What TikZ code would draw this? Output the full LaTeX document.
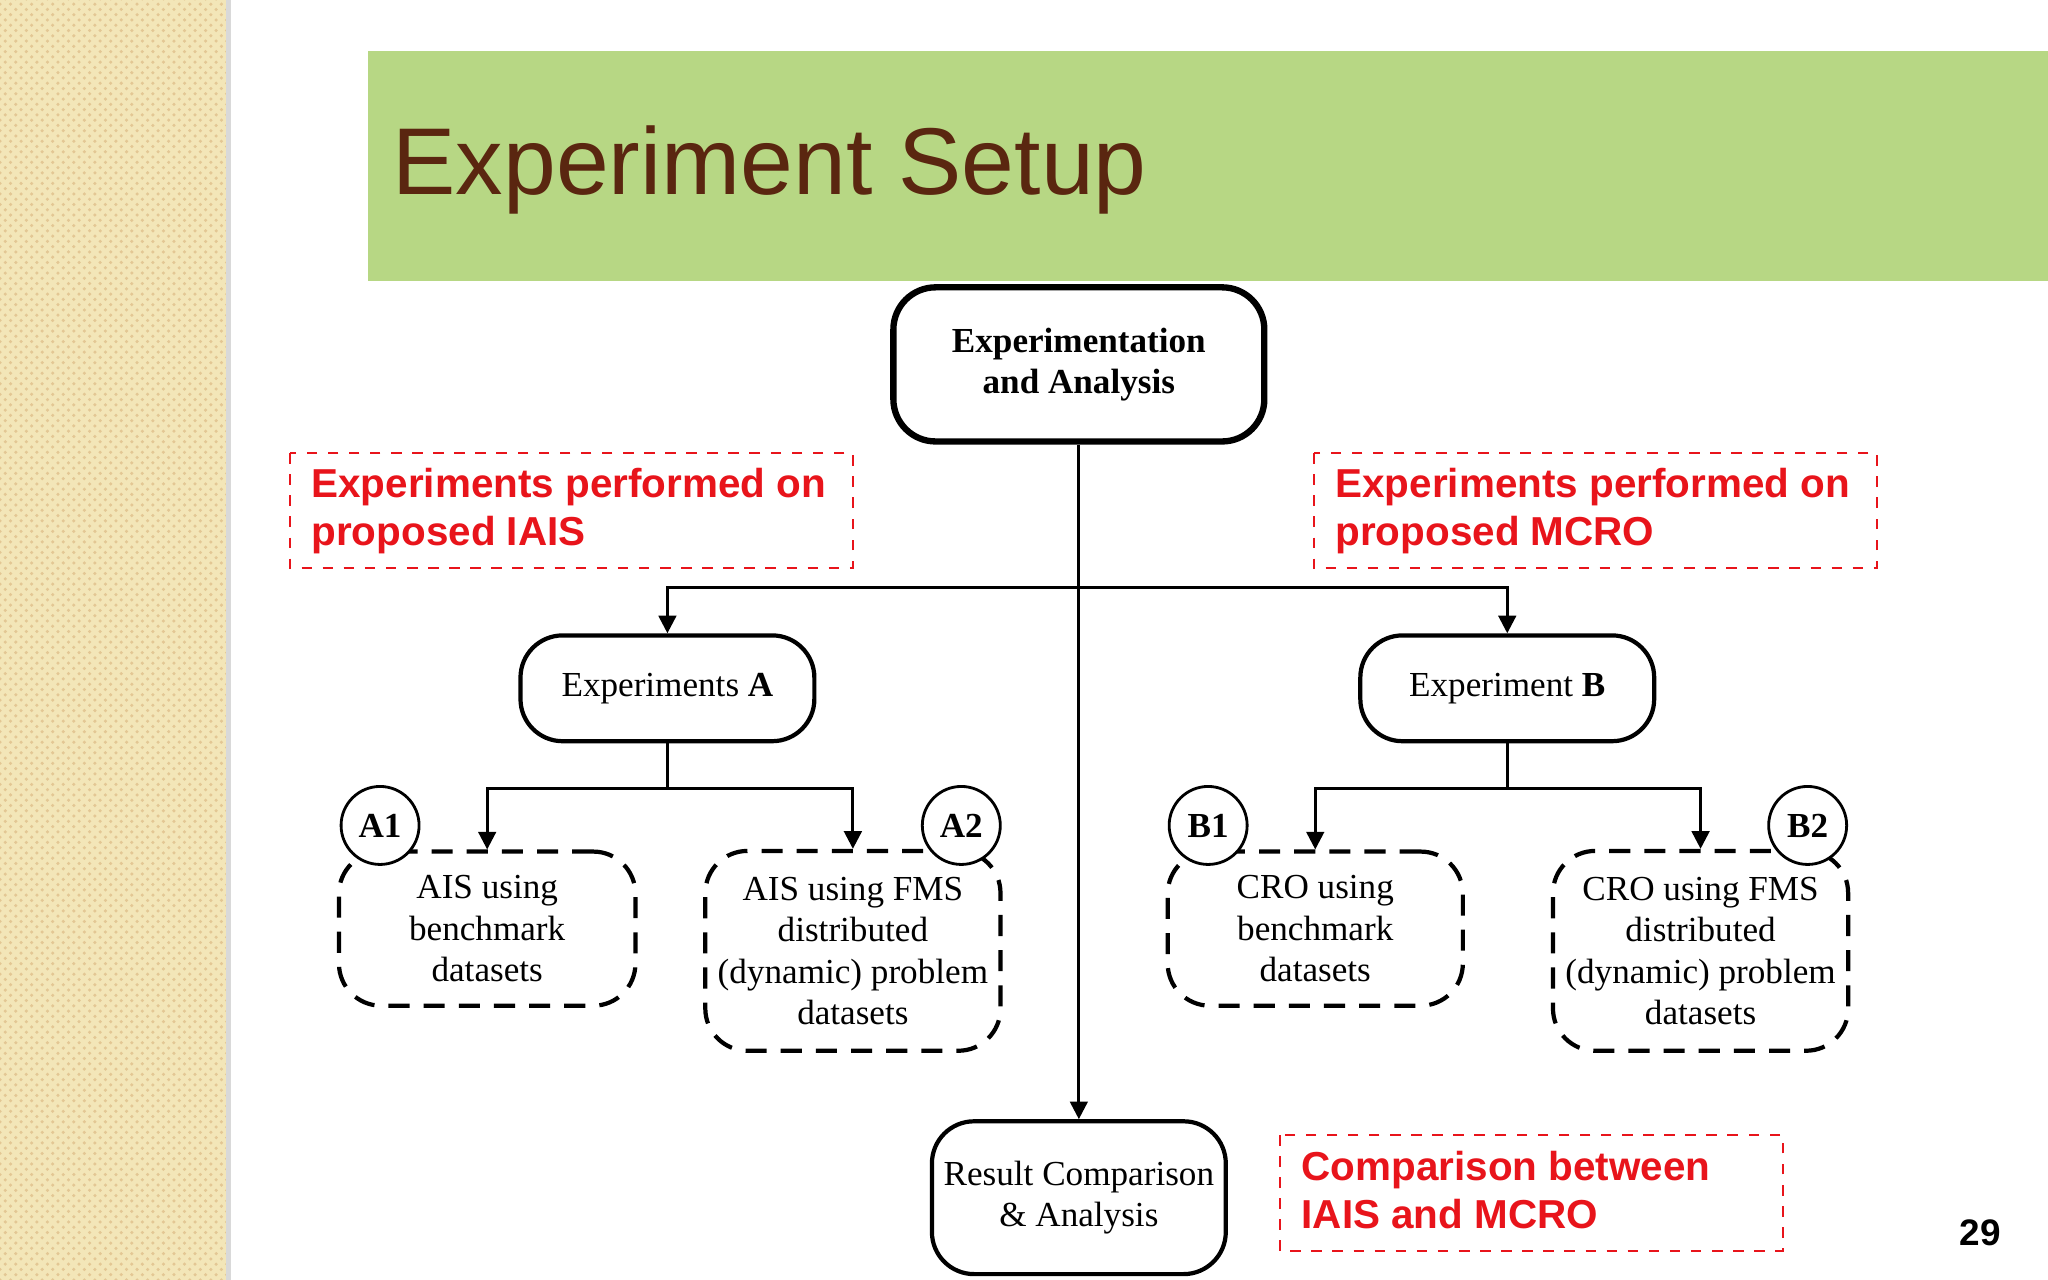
\documentclass[tikz,border=0pt]{standalone}
\usepackage{fontspec}
\setmainfont{Liberation Serif}
\newfontfamily\sansf{Liberation Sans}
\usetikzlibrary{arrows.meta,patterns}
\definecolor{beige}{HTML}{F3E6B8}
\definecolor{bandg}{HTML}{B7D784}
\definecolor{titleb}{HTML}{5A2610}
\definecolor{redt}{HTML}{E8141B}
\begin{document}
\begin{tikzpicture}[x=0.01306cm,y=-0.01306cm,
  solid box/.style={draw,line width=1.2pt,rounded corners=12pt,align=center,font=\fontsize{10}{11.8}\selectfont},
  dash box/.style={draw,line width=1.2pt,dash pattern=on 6pt off 4pt,rounded corners=12pt,align=center,font=\fontsize{10}{11.8}\selectfont},
  lab/.style={draw,circle,line width=0.8pt,minimum size=0.78cm,inner sep=0pt,font=\bfseries\fontsize{10}{12}\selectfont},
  redbox/.style={draw=redt,dashed,line width=0.6pt},
  redtext/.style={text=redt,font=\sansf\bfseries\fontsize{11.5}{13.7}\selectfont,align=left,anchor=north west,inner sep=0pt},
  arr/.style={-{Triangle[length=5pt,width=5pt]},line width=0.8pt},
  ln/.style={line width=0.8pt}]
\useasboundingbox (0,0) rectangle (1568,980);
\fill[white] (0,0) rectangle (1568,980);
\fill[beige] (0,0) rectangle (173,980);
\fill[pattern=crosshatch dots,pattern color=beige!70!brown] (0,0) rectangle (173,980);
\fill[gray!30] (173,0) rectangle (177,980);
\fill[bandg] (282,39) rectangle (1568,215);
\node[anchor=west,text=titleb,font=\sansf\fontsize{27}{30}\selectfont,inner sep=0pt] (title) at (300,130) {Experiment Setup};

\node[solid box,line width=1.8pt,minimum width=284*0.01306cm,minimum height=118*0.01306cm,font=\bfseries\fontsize{10}{11.8}\selectfont] (top) at (826,279) {Experimentation\\and Analysis};
\node[solid box,minimum width=225*0.01306cm,minimum height=81*0.01306cm] (ea) at (511,527) {Experiments \textbf{A}};
\node[solid box,minimum width=225*0.01306cm,minimum height=81*0.01306cm] (eb) at (1154,527) {Experiment \textbf{B}};
\node[solid box,minimum width=225*0.01306cm,minimum height=117*0.01306cm] (res) at (826,917) {Result Comparison\\\& Analysis};

\node[dash box,minimum width=227*0.01306cm,minimum height=118*0.01306cm] (a1) at (373,711) {AIS using\\benchmark\\datasets};
\node[dash box,minimum width=226*0.01306cm,minimum height=153*0.01306cm] (a2) at (653,728) {AIS using FMS\\distributed\\(dynamic) problem\\datasets};
\node[dash box,minimum width=226*0.01306cm,minimum height=118*0.01306cm] (b1) at (1007,711) {CRO using\\benchmark\\datasets};
\node[dash box,minimum width=226*0.01306cm,minimum height=153*0.01306cm] (b2) at (1302,728) {CRO using FMS\\distributed\\(dynamic) problem\\datasets};

\node[lab,fill=white] (la1) at (291,632) {A1};
\node[lab,fill=white] (la2) at (736,632) {A2};
\node[lab,fill=white] (lb1) at (925,632) {B1};
\node[lab,fill=white] (lb2) at (1384,632) {B2};

\coordinate (h) at (826,450);
\coordinate (hl) at (511,450);
\coordinate (hr) at (1154,450);
\draw[arr] (top.south) -- (res.north);
\draw[arr] (h) -- (hl) -- (ea.north);
\draw[arr] (h) -- (hr) -- (eb.north);
\coordinate (ja) at (511,604);
\coordinate (jb) at (1154,604);
\draw[ln] (ea.south) -- (ja);
\draw[arr] (ja) -| (a1.north);
\draw[arr] (ja) -| (a2.north);
\draw[ln] (eb.south) -- (jb);
\draw[arr] (jb) -| (b1.north);
\draw[arr] (jb) -| (b2.north);

\draw[redbox] (222,347) rectangle (653,435);
\node[redtext] (r1) at (238,358) {Experiments performed on\\proposed IAIS};
\draw[redbox] (1006,347) rectangle (1437,435);
\node[redtext] (r2) at (1022,358) {Experiments performed on\\proposed MCRO};
\draw[redbox] (980,869) rectangle (1365,958);
\node[redtext] (r3) at (996,881) {Comparison between\\IAIS and MCRO};
\node[font=\sansf\bfseries\fontsize{10.5}{12}\selectfont] (pg) at (1516,944) {29};
\end{tikzpicture}
\end{document}
